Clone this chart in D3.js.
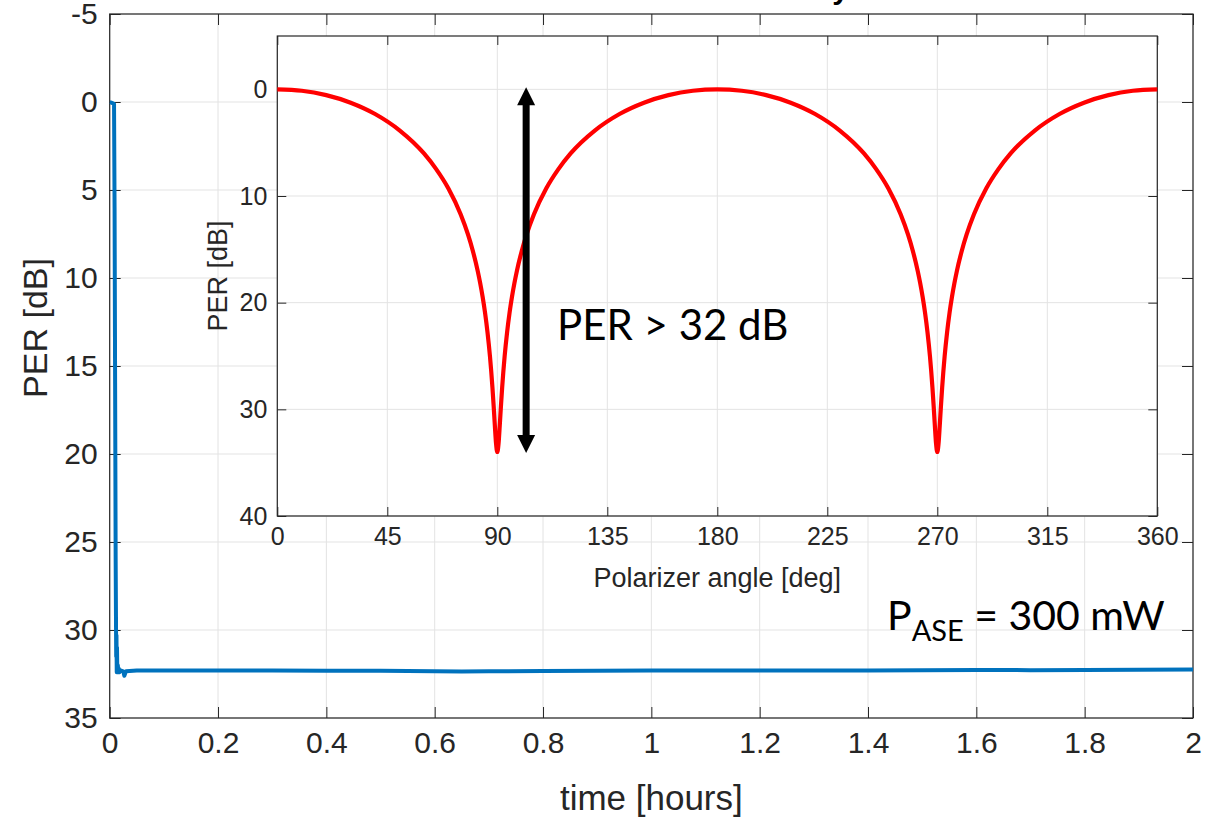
<!DOCTYPE html>
<html>
<head>
<meta charset="utf-8">
<script src="https://cdn.jsdelivr.net/npm/d3@7"></script>
<style>
  body { margin: 0; background: #fff; }
  svg { display: block; font-family: "Liberation Sans", Arial, sans-serif; }
</style>
</head>
<body>
<div id="chart"></div>
<script>

// ---- Data ----

// Main chart: PER over time
var blueTime = [0, 0.004, 0.008, 0.009, 0.010, 0.011, 0.012, 0.0125, 0.013, 0.0135, 0.014, 0.015,
    0.016, 0.017, 0.018, 0.019, 0.02, 0.025, 0.027, 0.03, 0.05, 0.1, 0.2, 0.3, 0.4, 0.5, 0.6,
    0.65, 0.7, 0.8, 0.9, 1.0, 1.1, 1.2, 1.3, 1.4, 1.5, 1.6, 1.7, 1.8, 1.9, 2.0];
var bluePer = [0, 0.05, 0.1, 6, 16, 26, 31.5, 30.3, 32.4, 31.0, 32.3, 32.0,
    32.4, 32.2, 32.4, 32.3, 32.3, 32.35, 32.6, 32.35, 32.3, 32.3, 32.3, 32.3, 32.31, 32.32, 32.34,
    32.36, 32.35, 32.33, 32.32, 32.3, 32.3, 32.3, 32.3, 32.3, 32.28, 32.27, 32.28, 32.27, 32.26, 32.25];

var mainXTicks = [0, 0.2, 0.4, 0.6, 0.8, 1, 1.2, 1.4, 1.6, 1.8, 2];
var mainYTicks = [-5, 0, 5, 10, 15, 20, 25, 30, 35];

// Inset: PER vs polarizer angle
var redAngle = [0, 10, 20, 30, 40, 50, 60, 65, 70, 75, 78, 80, 82, 83, 84, 85, 86, 87, 88, 88.5, 89, 89.5,
    90, 90.5, 91, 91.5, 92, 93, 94, 95, 96, 97, 98, 100, 102, 105, 110, 115, 120, 130, 140, 150, 160, 170,
    180, 190, 200, 210, 220, 230, 240, 245, 250, 255, 258, 260, 262, 263, 264, 265, 266, 267, 268, 268.5, 269, 269.5,
    270, 270.5, 271, 271.5, 272, 273, 274, 275, 276, 277, 278, 280, 282, 285, 290, 295, 300, 310, 320, 330, 340, 350, 360];
var redPer = [0, 0.13, 0.54, 1.25, 2.31, 3.84, 6.01, 7.48, 9.30, 11.71, 13.60, 15.15, 17.04, 18.17, 19.46, 20.97, 22.79, 25.03, 27.92, 29.65, 31.53, 33.24,
    34.0, 33.24, 31.53, 29.65, 27.92, 25.03, 22.79, 20.97, 19.46, 18.17, 17.04, 15.15, 13.60, 11.71, 9.30, 7.48, 6.01, 3.84, 2.31, 1.25, 0.54, 0.13,
    0, 0.13, 0.54, 1.25, 2.31, 3.84, 6.01, 7.48, 9.30, 11.71, 13.60, 15.15, 17.04, 18.17, 19.46, 20.97, 22.79, 25.03, 27.92, 29.65, 31.53, 33.24,
    34.0, 33.24, 31.53, 29.65, 27.92, 25.03, 22.79, 20.97, 19.46, 18.17, 17.04, 15.15, 13.60, 11.71, 9.30, 7.48, 6.01, 3.84, 2.31, 1.25, 0.54, 0.13, 0];

var insetXTicks = [0, 45, 90, 135, 180, 225, 270, 315, 360];
var insetYTicks = [0, 10, 20, 30, 40];

// Double arrow: angle and PER range
var arrowAngle = 101.8;
var arrowPer = [-0.2, 34.1];

// ---- Layout ----
var W = 1223, H = 820;
var main = { left: 109.7, top: 14, right: 1193, bottom: 718 };
var inset = { left: 277.3, top: 36, right: 1157.3, bottom: 516 };
var axisColor = "#262626";
var gridColor = "#e3e3e3";

var svg = d3.select("#chart")
    .append("svg")
    .attr("width", W)
    .attr("height", H);

// Scales
var x = d3.scaleLinear().domain([0, 2]).range([main.left, main.right]);
var y = d3.scaleLinear().domain([-5, 35]).range([main.top, main.bottom]);
var ix = d3.scaleLinear().domain([0, 360]).range([inset.left, inset.right]);
var iy = d3.scaleLinear().domain([-5, 40]).range([inset.top, inset.bottom]);

// Draws grid, inward ticks on all four sides and a box
function drawFrame(g, xs, ys, xt, yt, box, tickLen, fontSize) {
    // grid
    g.append("g").selectAll("line").data(xt).join("line")
        .attr("x1", function (d) { return xs(d) }).attr("x2", function (d) { return xs(d) })
        .attr("y1", box.top).attr("y2", box.bottom)
        .attr("stroke", gridColor).attr("stroke-width", 1);
    g.append("g").selectAll("line").data(yt).join("line")
        .attr("y1", function (d) { return ys(d) }).attr("y2", function (d) { return ys(d) })
        .attr("x1", box.left).attr("x2", box.right)
        .attr("stroke", gridColor).attr("stroke-width", 1);

    var axes = [
        d3.axisBottom(xs).tickValues(xt).tickSize(-tickLen).tickSizeOuter(0).tickPadding(fontSize * 0.45),
        d3.axisTop(xs).tickValues(xt).tickSize(-tickLen).tickSizeOuter(0).tickFormat(""),
        d3.axisLeft(ys).tickValues(yt).tickSize(-tickLen).tickSizeOuter(0).tickPadding(fontSize * 0.4),
        d3.axisRight(ys).tickValues(yt).tickSize(-tickLen).tickSizeOuter(0).tickFormat("")
    ];
    var pos = ["translate(0," + box.bottom + ")", "translate(0," + box.top + ")",
        "translate(" + box.left + ",0)", "translate(" + box.right + ",0)"];
    axes.forEach(function (a, i) {
        if (i == 0 || i == 2) a.tickFormat(function (d) { return String(d) });
        var ag = g.append("g").attr("transform", pos[i]).call(a);
        ag.select(".domain").remove();
        ag.selectAll("line").attr("stroke", axisColor);
        ag.selectAll("text")
            .attr("fill", axisColor)
            .style("font-size", fontSize + "px")
            .style("font-family", "'Liberation Sans', Arial, sans-serif");
    });

    g.append("rect")
        .attr("x", box.left).attr("y", box.top)
        .attr("width", box.right - box.left).attr("height", box.bottom - box.top)
        .attr("fill", "none").attr("stroke", axisColor).attr("stroke-width", 1.2);
}

// ---- Main chart ----
var gMain = svg.append("g");
drawFrame(gMain, x, y, mainXTicks, mainYTicks, main, 11, 30);

// Title (mostly cut off above the picture, as in the original)
svg.append("text")
    .attr("x", 849).attr("y", -1)
    .attr("text-anchor", "end")
    .style("font-size", "30px").style("font-weight", "bold")
    .text("PER stability");

svg.append("clipPath").attr("id", "clipMain")
    .append("rect")
    .attr("x", main.left).attr("y", main.top)
    .attr("width", main.right - main.left).attr("height", main.bottom - main.top);

var blueLine = d3.line()
    .x(function (d, i) { return x(blueTime[i]) })
    .y(function (d) { return y(d) });

gMain.append("path")
    .attr("clip-path", "url(#clipMain)")
    .attr("d", blueLine(bluePer))
    .attr("fill", "none")
    .attr("stroke", "#0072BD")
    .attr("stroke-width", 4)
    .attr("stroke-linejoin", "round");

// Axis labels
svg.append("text")
    .attr("x", (main.left + main.right) / 2).attr("y", 810)
    .attr("text-anchor", "middle")
    .attr("fill", axisColor)
    .style("font-size", "35px")
    .text("time [hours]");

svg.append("text")
    .attr("transform", "translate(35,328) rotate(-90)")
    .attr("dy", "0.35em")
    .attr("text-anchor", "middle")
    .attr("fill", axisColor)
    .style("font-size", "34px")
    .text("PER [dB]");

// P_ASE annotation
var pase = svg.append("text")
    .attr("x", 887).attr("y", 630)
    .attr("fill", "#000")
    .style("font-family", "Lato, 'Open Sans', sans-serif")
    .style("font-size", "41px");
pase.append("tspan").text("P");
pase.append("tspan").attr("dy", 11).style("font-size", "29px").text("ASE");
pase.append("tspan").attr("dy", -11).text(" = 300 mW");

// ---- Inset ----
var gInset = svg.append("g");
gInset.append("rect")
    .attr("x", inset.left).attr("y", inset.top)
    .attr("width", inset.right - inset.left).attr("height", inset.bottom - inset.top)
    .attr("fill", "#fff");
drawFrame(gInset, ix, iy, insetXTicks, insetYTicks, inset, 9, 25);

svg.append("clipPath").attr("id", "clipInset")
    .append("rect")
    .attr("x", inset.left).attr("y", inset.top)
    .attr("width", inset.right - inset.left).attr("height", inset.bottom - inset.top);

var redLine = d3.line()
    .x(function (d, i) { return ix(redAngle[i]) })
    .y(function (d) { return iy(d) })
    .curve(d3.curveMonotoneX);

gInset.append("path")
    .attr("clip-path", "url(#clipInset)")
    .attr("d", redLine(redPer))
    .attr("fill", "none")
    .attr("stroke", "#ff0000")
    .attr("stroke-width", 4.2)
    .attr("stroke-linejoin", "round")
    .attr("stroke-linecap", "round");

// Double-headed arrow
var ax = ix(arrowAngle), ay1 = iy(arrowPer[0]), ay2 = iy(arrowPer[1]);
var headW = 9, headH = 18;
gInset.append("line")
    .attr("x1", ax).attr("x2", ax)
    .attr("y1", ay1 + headH - 1).attr("y2", ay2 - headH + 1)
    .attr("stroke", "#000").attr("stroke-width", 7);
gInset.append("path")
    .attr("d", "M" + ax + "," + ay1 + "L" + (ax + headW) + "," + (ay1 + headH) + "L" + (ax - headW) + "," + (ay1 + headH) + "Z")
    .attr("fill", "#000");
gInset.append("path")
    .attr("d", "M" + ax + "," + ay2 + "L" + (ax + headW) + "," + (ay2 - headH) + "L" + (ax - headW) + "," + (ay2 - headH) + "Z")
    .attr("fill", "#000");

gInset.append("text")
    .attr("x", 557).attr("y", 340)
    .attr("fill", "#000")
    .style("font-family", "Lato, 'Open Sans', sans-serif")
    .style("font-size", "42px")
    .text("PER > 32 dB");

// Inset axis labels
gInset.append("text")
    .attr("x", (inset.left + inset.right) / 2).attr("y", 587)
    .attr("text-anchor", "middle")
    .attr("fill", axisColor)
    .style("font-size", "27px")
    .text("Polarizer angle [deg]");

gInset.append("text")
    .attr("transform", "translate(218," + ((inset.top + inset.bottom) / 2) + ") rotate(-90)")
    .attr("dy", "0.35em")
    .attr("text-anchor", "middle")
    .attr("fill", axisColor)
    .style("font-size", "27px")
    .text("PER [dB]");

</script>
</body>
</html>
